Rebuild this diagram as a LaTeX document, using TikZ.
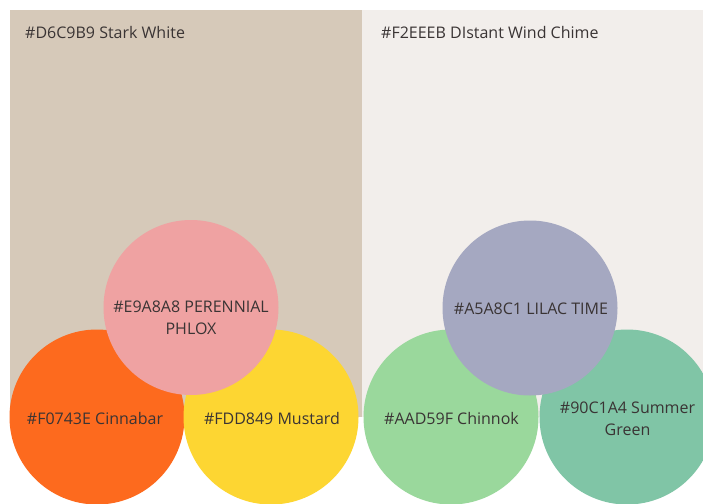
\documentclass[tikz,border=0pt]{standalone}
\usepackage{fontspec}
\setmainfont{Open Sans}
\definecolor{tan}{HTML}{D6C9B9}
\definecolor{chime}{HTML}{F2EEEB}
\definecolor{phlox}{HTML}{EFA2A2}
\definecolor{cinnabar}{HTML}{FD6A1E}
\definecolor{mustard}{HTML}{FDD632}
\definecolor{lilac}{HTML}{A5A8C1}
\definecolor{chinnok}{HTML}{9AD89C}
\definecolor{summer}{HTML}{80C5A6}
\definecolor{ink}{HTML}{3A3434}
\begin{document}
\begin{tikzpicture}[x=1pt,y=-1pt,
  lbl/.style={text=ink,font=\fontsize{16}{22}\selectfont,inner sep=0pt,align=center},
  dot/.style={circle,minimum size=175pt,inner sep=0pt,draw=none}]
\useasboundingbox (0,0) rectangle (703,503);
\clip (0,0) rectangle (703,503);
\fill[white] (0,0) rectangle (703,503);
\fill[tan] (10,10) rectangle (362,417);
\fill[chime] (362,10) rectangle (703,417);
\node[lbl,anchor=west] (t1) at (25,32.5) {\#D6C9B9 Stark White};
\node[lbl,anchor=west] (t2) at (381,32.5) {\#F2EEEB DIstant Wind Chime};
\node[dot,fill=cinnabar] (c1) at (97,417) {};
\node[dot,fill=mustard] (c2) at (271,417) {};
\node[dot,fill=phlox] (c3) at (191,307.5) {};
\node[lbl] (l1) at (95,418) {\#F0743E Cinnabar};
\node[lbl] (l2) at (272,418) {\#FDD849 Mustard};
\node[lbl] (l3) at (191,317.5) {\#E9A8A8 PERENNIAL\\PHLOX};
\node[dot,fill=chinnok] (c4) at (451,417) {};
\node[dot,fill=summer] (c5) at (627,417) {};
\node[dot,fill=lilac] (c6) at (530,308) {};
\node[lbl] (l4) at (451.5,418) {\#AAD59F Chinnok};
\node[lbl] (l5) at (627.5,419) {\#90C1A4 Summer\\Green};
\node[lbl] (l6) at (531,309) {\#A5A8C1 LILAC TIME};
\end{tikzpicture}
\end{document}
